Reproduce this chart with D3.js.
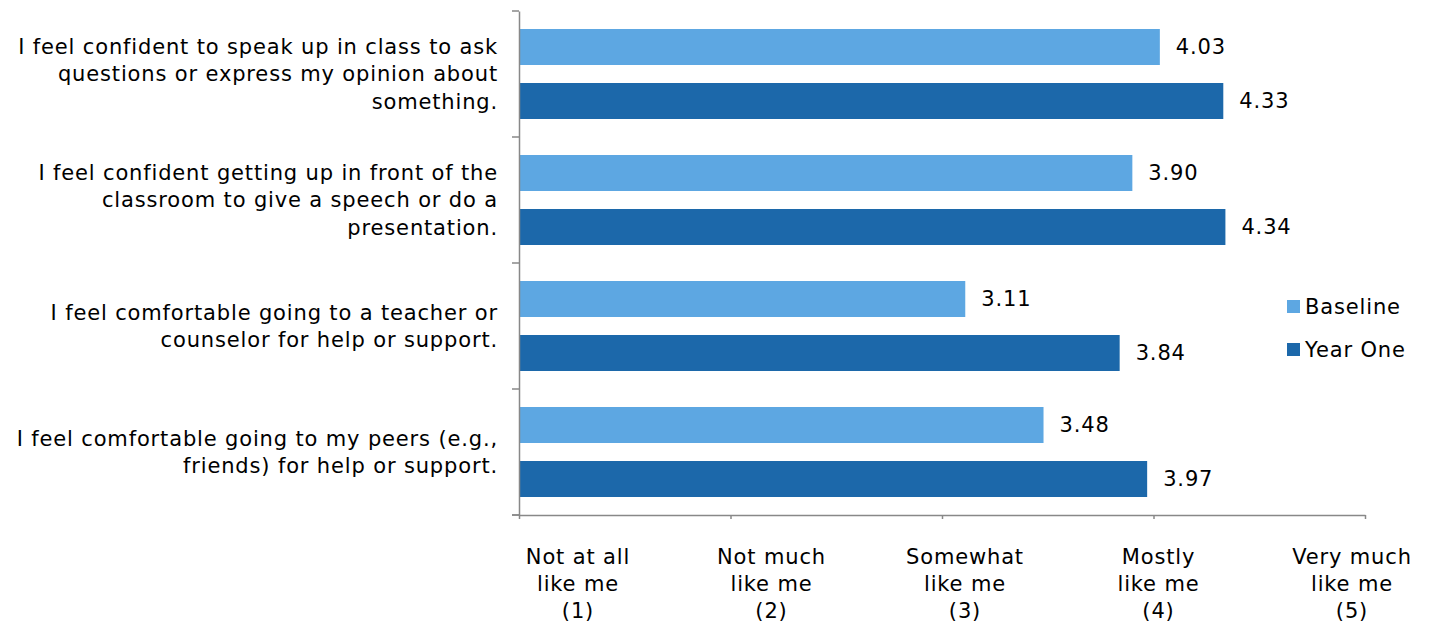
<!DOCTYPE html>
<html>
<head>
<meta charset="utf-8">
<script src="https://cdn.jsdelivr.net/npm/d3@7"></script>
<style>
  body { margin: 0; background: #fff; }
  text { font-family: "DejaVu Sans", Verdana, sans-serif; fill: #000; font-size: 21px; letter-spacing: 0.85px; }
</style>
</head>
<body>
<svg id="chart" width="1432" height="628"></svg>
<script>
var categories = [
    ["I feel confident to speak up in class to ask", "questions or express my opinion about", "something."],
    ["I feel confident getting up in front of the", "classroom to give a speech or do a", "presentation."],
    ["I feel comfortable going to a teacher or", "counselor for help or support."],
    ["I feel comfortable going to my peers (e.g.,", "friends) for help or support."]
];
var seriesNames = ["Baseline", "Year One"];
var baseline = [4.03, 3.90, 3.11, 3.48];
var yearOne = [4.33, 4.34, 3.84, 3.97];
var tickValues = [1, 2, 3, 4, 5];
var tickLabels = [
    ["Not at all", "like me", "(1)"],
    ["Not much", "like me", "(2)"],
    ["Somewhat", "like me", "(3)"],
    ["Mostly", "like me", "(4)"],
    ["Very much", "like me", "(5)"]
];
var colors = ["#5da7e2", "#1c68aa"];

var svg = d3.select("#chart"),
    margin = {top: 11, right: 67, bottom: 113, left: 519},
    width = +svg.attr("width") - margin.left - margin.right,
    height = +svg.attr("height") - margin.top - margin.bottom;

var data = categories.map(function(c, i) {
    return {idx: i, lines: c, values: [baseline[i], yearOne[i]]};
});

var x = d3.scaleLinear().domain([1, 5]).range([0, width]);
var y0 = d3.scaleBand().domain(d3.range(categories.length)).range([0, height]);
var y1 = d3.scaleBand().domain(d3.range(seriesNames.length))
    .range([0, y0.bandwidth()]).paddingInner(1 / 3).paddingOuter(1 / 3);

var g = svg.append("g")
    .attr("transform", "translate(" + margin.left + "," + margin.top + ")");

var groups = g.selectAll(".grp")
    .data(data)
    .enter().append("g")
    .attr("class", "grp")
    .attr("transform", function(d) { return "translate(0," + y0(d.idx) + ")"; });

groups.selectAll("rect")
    .data(function(d) { return d.values.map(function(v, s) { return {s: s, v: v}; }); })
    .enter().append("rect")
    .attr("x", x(1) + 1)
    .attr("y", function(d) { return y1(d.s); })
    .attr("width", function(d) { return x(d.v) - x(1) - 1; })
    .attr("height", y1.bandwidth())
    .attr("fill", function(d) { return colors[d.s]; });

groups.selectAll(".val")
    .data(function(d) { return d.values.map(function(v, s) { return {s: s, v: v}; }); })
    .enter().append("text")
    .attr("class", "val")
    .attr("x", function(d) { return x(d.v) + 16; })
    .attr("y", function(d) { return y1(d.s) + y1.bandwidth() / 2; })
    .attr("dy", "0.35em")
    .text(function(d) { return d.v.toFixed(2); });

// category labels
var lineH = 27.5;
groups.append("text")
    .attr("text-anchor", "end")
    .each(function(d) {
        var t = d3.select(this);
        var n = d.lines.length;
        d.lines.forEach(function(l, k) {
            t.append("tspan")
                .attr("x", -21)
                .attr("y", y0.bandwidth() / 2 + (k - (n - 1) / 2) * lineH)
                .attr("dy", "0.35em")
                .text(l);
        });
    });

// y axis
var yAxis = g.append("g")
    .call(d3.axisLeft(y0).tickValues([]).tickSizeOuter(0));
yAxis.selectAll(".tick").remove();
yAxis.selectAll(".yt")
    .data(d3.range(categories.length + 1))
    .enter().append("line")
    .attr("x1", -7).attr("x2", 0)
    .attr("y1", function(d) { return d * y0.step(); })
    .attr("y2", function(d) { return d * y0.step(); })
    .attr("stroke", "#888").attr("stroke-width", 1.5);
yAxis.select(".domain").attr("stroke", "#888").attr("stroke-width", 1.5);

// x axis
var xAxis = g.append("g")
    .attr("transform", "translate(0," + height + ")")
    .call(d3.axisBottom(x).tickValues(tickValues).tickSize(4).tickSizeOuter(0).tickFormat(""));
xAxis.select(".domain").attr("stroke", "#888").attr("stroke-width", 1.5);
xAxis.selectAll(".tick line").attr("stroke", "#888").attr("stroke-width", 1.5);
xAxis.append("line")
    .attr("x1", -7).attr("x2", 0).attr("y1", 0).attr("y2", 0)
    .attr("stroke", "#888").attr("stroke-width", 1.5);

// x tick labels, spread as in the source chart
var xl = d3.scalePoint().domain(tickValues).range([578 - margin.left, 1352 - margin.left]);
xAxis.selectAll(".xl")
    .data(tickLabels)
    .enter().append("text")
    .attr("class", "xl")
    .attr("text-anchor", "middle")
    .each(function(d, i) {
        var t = d3.select(this);
        d.forEach(function(l, k) {
            t.append("tspan")
                .attr("x", xl(tickValues[i]))
                .attr("y", 42 + k * 27)
                .attr("dy", "0.35em")
                .text(l);
        });
    });

// legend
var legend = svg.append("g")
    .attr("transform", "translate(1287,300)");
var li = legend.selectAll(".li")
    .data(seriesNames)
    .enter().append("g")
    .attr("class", "li")
    .attr("transform", function(d, i) { return "translate(0," + i * 43 + ")"; });
li.append("rect")
    .attr("width", 13).attr("height", 13)
    .attr("fill", function(d, i) { return colors[i]; });
li.append("text")
    .attr("x", 18).attr("y", 6.5).attr("dy", "0.35em")
    .text(function(d) { return d; });
</script>
</body>
</html>
